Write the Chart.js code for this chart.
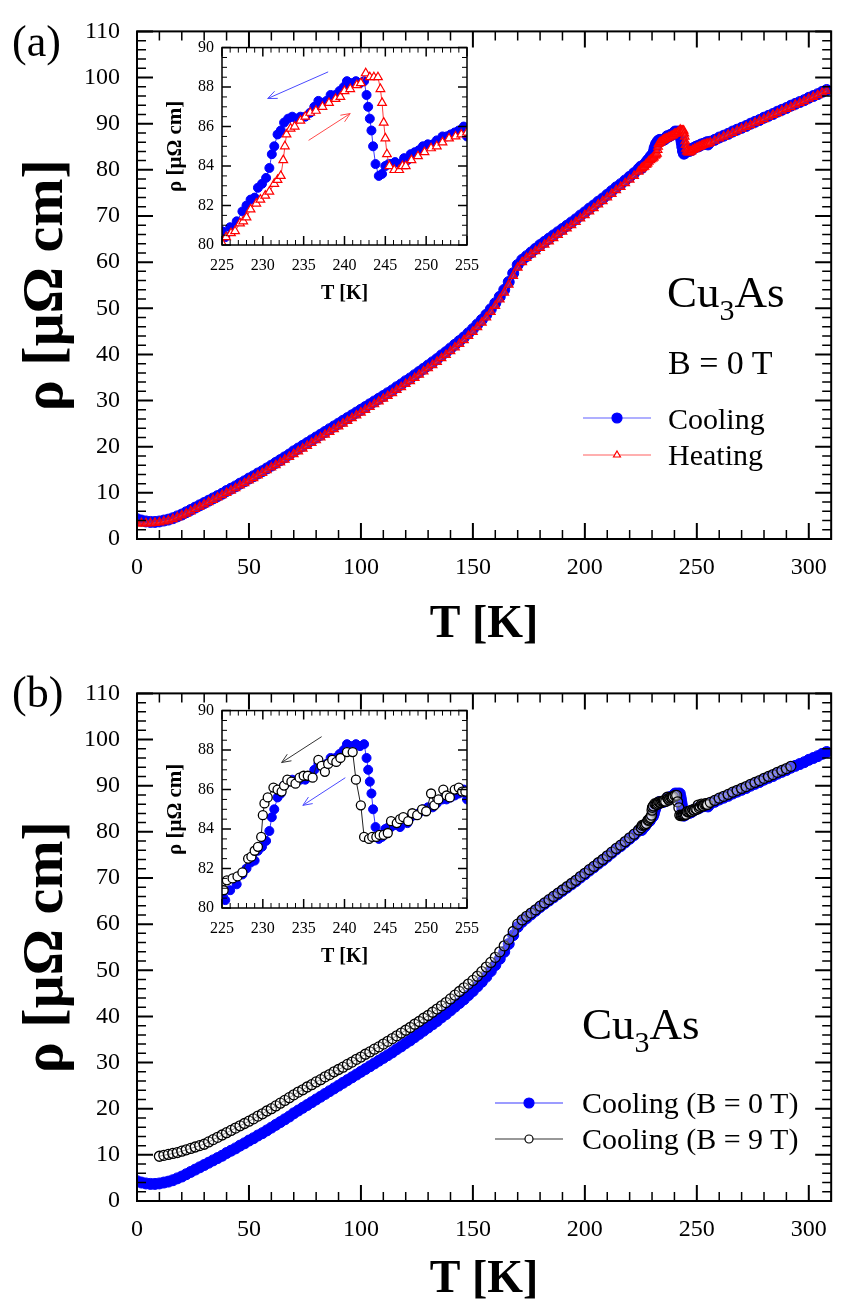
<!DOCTYPE html>
<html>
<head>
<meta charset="utf-8">
<script src="https://cdn.jsdelivr.net/npm/chart.js@4.4.0/dist/chart.umd.min.js"></script>
<style>
  body { margin: 0; background: #fff; width: 841px; height: 1303px; position: relative; overflow: hidden; font-family: "Liberation Serif", "Times New Roman", serif; }
  .box { position: absolute; }
  .lbl { position: absolute; color: #000; white-space: nowrap; line-height: 1; z-index: 5; }
  .sub { font-size: 30px; position: relative; top: 13px; }
</style>
</head>
<body>
<div class="box" style="left:0;top:0;width:841px;height:655px"><canvas id="mainA"></canvas></div>
<div class="box" style="left:150px;top:30px;width:340px;height:290px"><canvas id="insetA"></canvas></div>
<div class="box" style="left:0;top:662px;width:841px;height:641px"><canvas id="mainB"></canvas></div>
<div class="box" style="left:150px;top:693px;width:340px;height:290px"><canvas id="insetB"></canvas></div>

<div class="lbl" style="left:12px;top:20px;font-size:44px">(a)</div>
<div class="lbl" style="left:667px;top:270px;font-size:45px">Cu<span class="sub">3</span>As</div>
<div class="lbl" style="left:668px;top:346px;font-size:34px">B = 0 T</div>
<div class="lbl" style="left:668px;top:404px;font-size:30px">Cooling</div>
<div class="lbl" style="left:668px;top:440px;font-size:30px">Heating</div>

<div class="lbl" style="left:12px;top:671px;font-size:44px">(b)</div>
<div class="lbl" style="left:582px;top:1002px;font-size:45px">Cu<span class="sub">3</span>As</div>
<div class="lbl" style="left:582px;top:1088px;font-size:30px">Cooling (B = 0 T)</div>
<div class="lbl" style="left:582px;top:1124px;font-size:30px">Cooling (B = 9 T)</div>

<script>
// tick labels
const mainXTicks = [0, 50, 100, 150, 200, 250, 300];
const mainYTicks = [0, 10, 20, 30, 40, 50, 60, 70, 80, 90, 100, 110];
const insetXTicks = [225, 230, 235, 240, 245, 250, 255];
const insetYTicks = [80, 82, 84, 86, 88, 90];

// main panel temperatures (outside the inset window)
const mainT = [0, 2, 4, 6, 8, 10, 12, 14, 16, 18, 20, 22, 24, 26, 28, 30, 32, 34, 36, 38,
  40, 42, 44, 46, 48, 50, 52, 54, 56, 58, 60, 62, 64, 66, 68, 70, 72, 74, 76, 78,
  80, 82, 84, 86, 88, 90, 92, 94, 96, 98, 100, 102, 104, 106, 108, 110, 112, 114, 116, 118,
  120, 122, 124, 126, 128, 130, 132, 134, 136, 138, 140, 142, 144, 146, 148, 150, 152, 154, 156, 158,
  160, 162, 164, 166, 168, 170, 172, 174, 176, 178, 180, 182, 184, 186, 188, 190, 192, 194, 196, 198,
  200, 202, 204, 206, 208, 210, 212, 214, 216, 218, 220, 222, 224,
  256, 258, 260, 262, 264, 266, 268, 270, 272, 274, 276, 278, 280, 282, 284, 286, 288, 290, 292, 294,
  296, 298, 300, 302, 304, 306, 308];

const coolMain = [4.3, 4.0, 3.8, 3.7, 3.7, 3.8, 4.0, 4.2, 4.5, 4.9,
  5.3, 5.8, 6.3, 6.8, 7.3, 7.8, 8.3, 8.8, 9.3, 9.8,
  10.4, 10.9, 11.4, 12.0, 12.5, 13.1, 13.6, 14.2, 14.7, 15.3,
  15.9, 16.5, 17.1, 17.7, 18.3, 19.0, 19.6, 20.2, 20.8, 21.4,
  22.0, 22.6, 23.2, 23.8, 24.4, 25.0, 25.6, 26.2, 26.8, 27.4,
  28.0, 28.6, 29.2, 29.8, 30.4, 31.0, 31.6, 32.2, 32.9, 33.5,
  34.2, 34.8, 35.5, 36.2, 36.9, 37.6, 38.3, 39.0, 39.8, 40.5,
  41.3, 42.1, 42.9, 43.7, 44.6, 45.5, 46.5, 47.5, 48.6, 49.8,
  51.1, 52.5, 54.0, 55.7, 57.6, 59.4, 60.5, 61.3, 62.1, 62.9,
  63.7, 64.4, 65.1, 65.8, 66.5, 67.2, 67.9, 68.6, 69.3, 70.1,
  70.8, 71.6, 72.3, 73.1, 73.8, 74.6, 75.4, 76.2, 76.9, 77.7,
  78.5, 79.3, 80.2,
  86.1, 86.5, 87.0, 87.4, 87.8, 88.3, 88.7, 89.1, 89.5, 90.0, 90.4, 90.8, 91.3, 91.7, 92.1, 92.6,
  93.0, 93.4, 93.9, 94.3, 94.7, 95.1, 95.6, 96.0, 96.4, 96.9, 97.3];

const heatMain = [3.4, 3.4, 3.4, 3.4, 3.5, 3.6, 3.8, 4.0, 4.3, 4.7,
  5.1, 5.5, 6.0, 6.5, 7.0, 7.5, 8.0, 8.5, 9.0, 9.5,
  10.0, 10.5, 11.0, 11.6, 12.1, 12.7, 13.2, 13.8, 14.3, 14.9,
  15.5, 16.0, 16.6, 17.2, 17.8, 18.4, 19.0, 19.6, 20.2, 20.8,
  21.4, 22.0, 22.6, 23.2, 23.8, 24.4, 25.0, 25.6, 26.2, 26.8,
  27.4, 28.0, 28.6, 29.2, 29.8, 30.4, 31.0, 31.6, 32.3, 32.9,
  33.6, 34.2, 34.9, 35.6, 36.3, 37.0, 37.7, 38.4, 39.2, 39.9,
  40.7, 41.5, 42.3, 43.1, 44.0, 44.9, 45.9, 46.9, 48.0, 49.2,
  50.5, 51.9, 53.4, 55.1, 57.0, 58.8, 60.0, 60.9, 61.7, 62.4,
  63.1, 63.8, 64.5, 65.2, 65.9, 66.6, 67.3, 68.0, 68.7, 69.5,
  70.2, 71.0, 71.7, 72.5, 73.2, 74.0, 74.8, 75.6, 76.3, 77.1,
  77.9, 78.7, 79.6,
  85.9, 86.3, 86.8, 87.2, 87.6, 88.0, 88.5, 88.9, 89.3, 89.7, 90.2, 90.6, 91.0, 91.5, 91.9, 92.3,
  92.8, 93.2, 93.6, 94.1, 94.5, 94.9, 95.4, 95.8, 96.2, 96.7, 97.1];

// B = 9 T cooling run, main panel
const fieldT = [10, 12, 14, 16, 18, 20, 22, 24, 26, 28, 30, 32, 34, 36, 38, 40, 42, 44, 46, 48,
  50, 52, 54, 56, 58, 60, 62, 64, 66, 68, 70, 72, 74, 76, 78, 80, 82, 84, 86, 88,
  90, 92, 94, 96, 98, 100, 102, 104, 106, 108, 110, 112, 114, 116, 118, 120, 122, 124, 126, 128,
  130, 132, 134, 136, 138, 140, 142, 144, 146, 148, 150, 152, 154, 156, 158, 160, 162, 164, 166, 168,
  170, 172, 174, 176, 178, 180, 182, 184, 186, 188, 190, 192, 194, 196, 198, 200, 202, 204, 206, 208,
  210, 212, 214, 216, 218, 220, 222, 224,
  256, 258, 260, 262, 264, 266, 268, 270, 272, 274, 276, 278, 280, 282, 284, 286, 288, 290, 292];

const fieldMain = [9.7, 9.9, 10.1, 10.3, 10.5, 10.8, 11.1, 11.4, 11.7, 12.0,
  12.3, 12.8, 13.3, 13.8, 14.3, 14.8, 15.3, 15.8, 16.3, 16.8,
  17.3, 17.8, 18.4, 18.9, 19.5, 20.0, 20.6, 21.2, 21.8, 22.4,
  23.0, 23.6, 24.1, 24.7, 25.2, 25.8, 26.3, 26.9, 27.4, 28.0,
  28.5, 29.0, 29.6, 30.1, 30.7, 31.2, 31.8, 32.3, 32.9, 33.4,
  34.0, 34.6, 35.2, 35.8, 36.4, 37.0, 37.6, 38.3, 38.9, 39.6,
  40.2, 40.9, 41.6, 42.3, 43.0, 43.8, 44.6, 45.4, 46.2, 47.0,
  47.8, 48.7, 49.7, 50.7, 51.7, 52.8, 54.0, 55.3, 56.7, 58.4,
  60.0, 60.9, 61.7, 62.4, 63.1, 63.9, 64.6, 65.3, 66.0, 66.7,
  67.4, 68.1, 68.8, 69.5, 70.3, 71.0, 71.8, 72.5, 73.3, 74.0,
  74.8, 75.6, 76.4, 77.1, 77.9, 78.7, 79.5, 80.4,
  86.4, 86.8, 87.3, 87.7, 88.1, 88.6, 89.0, 89.4, 89.8, 90.3, 90.7, 91.1, 91.6, 92.0, 92.4, 92.9,
  93.3, 93.7, 94.2];

// transition window 225-255 K (inset)
const coolT = [225, 225.4, 226, 226.8, 227.5, 228, 228.5, 229, 229.4, 229.9,
  230.4, 230.8, 231.1, 231.4, 231.8, 232.2, 232.6, 233.1, 233.6, 234.1,
  234.6, 235.2, 235.8, 236.3, 236.8, 237.3, 237.8, 238.3, 238.9, 239.4,
  239.9, 240.3, 240.9, 241.4, 241.9, 242.4, 242.7, 242.9, 243.1, 243.3,
  243.5, 243.8, 244.2, 244.6, 245.0, 245.4, 245.7, 246.2, 246.8, 247.3,
  247.7, 248.1, 248.6, 249.1, 249.6, 250.2, 250.8, 251.3, 252.0, 252.5,
  253.0, 253.5, 254.0, 254.6, 255];
const coolRho = [80.7, 80.4, 80.9, 81.2, 81.7, 82.0, 82.3, 82.4, 82.9, 83.1,
  83.4, 83.9, 84.6, 85.0, 85.6, 85.8, 86.2, 86.4, 86.5, 86.4,
  86.5, 86.5, 86.7, 87.0, 87.3, 87.2, 87.3, 87.6, 87.6, 87.8,
  88.0, 88.3, 88.2, 88.3, 88.2, 88.3, 87.6, 87.0, 86.4, 85.8,
  85.0, 84.1, 83.5, 83.6, 84.0, 84.1, 84.1, 84.2, 84.1, 84.4,
  84.3, 84.6, 84.7, 84.8, 85.0, 85.1, 85.1, 85.3, 85.5, 85.5,
  85.6, 85.7, 85.8, 86.0, 85.5];

const heatT = [225, 225.5, 226.1, 226.6, 227.2, 227.6, 228, 228.5, 229.2, 229.7,
  230.3, 230.8, 231.4, 231.8, 232.2, 232.5, 232.7, 232.9, 233.4, 233.9,
  234.6, 235.2, 235.8, 236.5, 237.3, 238.1, 238.9, 239.5, 240, 240.7,
  241.5, 242.0, 242.6, 243.1, 243.6, 244.1, 244.4, 244.6, 244.8, 245.0,
  245.2, 245.5, 246.1, 246.7, 247.1, 247.5, 248.2, 249.0, 249.8, 250.6,
  251.3, 252.0, 252.8, 253.6, 254.3, 255];
const heatRho = [80.1, 80.4, 80.6, 80.7, 81.1, 81.2, 81.4, 81.8, 82.1, 82.3,
  82.5, 82.7, 83.1, 83.3, 83.5, 84.3, 85.0, 85.6, 85.9, 86.0,
  86.3, 86.5, 86.7, 86.8, 87.0, 87.2, 87.4, 87.5, 87.8, 87.9,
  88.1, 88.2, 88.7, 88.5, 88.5, 88.5, 87.9, 87.2, 86.2, 85.4,
  84.6, 84.0, 83.8, 83.8, 84.0, 84.0, 84.3, 84.5, 84.7, 84.9,
  85.0, 85.2, 85.4, 85.5, 85.6, 85.7];

const fieldInsetT = [225.2, 225.6, 226.3, 226.9, 227.5, 228.2, 228.6, 229.0, 229.4, 229.8,
  230.0, 230.2, 230.6, 231.3, 231.8, 232.3, 232.6, 233.0, 233.5, 234.0,
  234.5, 235.0, 235.5, 236.1, 236.8, 237.2, 237.6, 238.0, 238.5, 239.0,
  239.5, 240.3, 241.0, 241.4, 242.0, 242.4, 243.0, 243.4, 243.9, 244.3,
  244.8, 245.3, 245.7, 246.4, 246.8, 247.2, 247.8, 248.3, 248.9, 249.5,
  250.0, 250.6, 251.0, 251.5, 252.1, 252.5, 252.9, 253.5, 254.0, 254.4, 254.8];
const fieldInsetRho = [80.9, 81.4, 81.5, 81.6, 81.8, 82.5, 82.6, 82.9, 83.1, 83.6,
  84.7, 85.3, 85.6, 86.1, 86.0, 85.9, 86.2, 86.5, 86.4, 86.3,
  86.6, 86.7, 86.7, 86.6, 87.5, 87.2, 86.9, 87.3, 87.5, 87.4,
  87.6, 87.9, 87.9, 86.5, 85.2, 83.6, 83.5, 83.6, 83.6, 83.7,
  83.7, 83.8, 84.4, 84.3, 84.5, 84.6, 84.4, 84.8, 84.7, 85.0,
  84.9, 85.8, 85.2, 85.5, 86.0, 85.7, 85.6, 86.0, 86.1, 85.9, 85.9];

const FONT = "'Liberation Serif', 'Times New Roman', serif";

function pts(xs, ys) {
  return xs.map((x, i) => ({x: x, y: ys[i]}));
}
function merged(xs, ys, xs2, ys2) {
  return pts(xs, ys).concat(pts(xs2, ys2)).sort((a, b) => a.x - b.x);
}

// inward ticks on all four sides plus the frame
const frameTicks = {
  id: 'frameTicks',
  afterDatasetsDraw(chart, args, o) {
    const {ctx, chartArea: a} = chart;
    const x = chart.scales.x, y = chart.scales.y;
    ctx.save();
    ctx.strokeStyle = '#000';
    const nx = Math.round((x.max - x.min) / o.xMinor);
    for (let i = 0; i <= nx; i++) {
      const v = x.min + i * o.xMinor;
      const major = Math.abs(v / o.xMajor - Math.round(v / o.xMajor)) < 1e-6;
      const len = major ? o.major : o.minor;
      const px = x.getPixelForValue(v);
      ctx.lineWidth = major ? o.majorW : o.minorW;
      ctx.beginPath();
      ctx.moveTo(px, a.bottom); ctx.lineTo(px, a.bottom - len);
      ctx.moveTo(px, a.top); ctx.lineTo(px, a.top + len);
      ctx.stroke();
    }
    const ny = Math.round((y.max - y.min) / o.yMinor);
    for (let i = 0; i <= ny; i++) {
      const v = y.min + i * o.yMinor;
      const major = Math.abs(v / o.yMajor - Math.round(v / o.yMajor)) < 1e-6;
      const len = major ? o.major : o.minor;
      const py = y.getPixelForValue(v);
      ctx.lineWidth = major ? o.majorW : o.minorW;
      ctx.beginPath();
      ctx.moveTo(a.left, py); ctx.lineTo(a.left + len, py);
      ctx.moveTo(a.right, py); ctx.lineTo(a.right - len, py);
      ctx.stroke();
    }
    ctx.lineWidth = o.frameW;
    ctx.strokeRect(a.left, a.top, a.right - a.left, a.bottom - a.top);
    ctx.restore();
  }
};

// legend samples and arrows
const marks = {
  id: 'marks',
  afterDraw(chart, args, o) {
    const ctx = chart.ctx;
    ctx.save();
    (o.legend || []).forEach(it => {
      ctx.strokeStyle = it.line;
      ctx.lineWidth = 1.2;
      ctx.beginPath();
      ctx.moveTo(it.x1, it.y); ctx.lineTo(it.x2, it.y);
      ctx.stroke();
      ctx.fillStyle = it.fill;
      ctx.strokeStyle = it.stroke;
      ctx.lineWidth = 1.2;
      Chart.helpers.drawPoint(ctx, {pointStyle: it.style, radius: it.r, borderWidth: 1.2, rotation: 0}, (it.x1 + it.x2) / 2, it.y);
    });
    const x = chart.scales.x, y = chart.scales.y;
    (o.arrows || []).forEach(ar => {
      const x0 = x.getPixelForValue(ar.from[0]), y0 = y.getPixelForValue(ar.from[1]);
      const x1 = x.getPixelForValue(ar.to[0]), y1 = y.getPixelForValue(ar.to[1]);
      const ang = Math.atan2(y1 - y0, x1 - x0);
      ctx.strokeStyle = ar.color;
      ctx.lineWidth = 1;
      ctx.beginPath();
      ctx.moveTo(x0, y0); ctx.lineTo(x1, y1);
      ctx.moveTo(x1 - 10 * Math.cos(ang - 0.4), y1 - 10 * Math.sin(ang - 0.4));
      ctx.lineTo(x1, y1);
      ctx.lineTo(x1 - 10 * Math.cos(ang + 0.4), y1 - 10 * Math.sin(ang + 0.4));
      ctx.stroke();
    });
    ctx.restore();
  }
};

function axes(o) {
  return {
    x: {
      type: 'linear', min: o.xMin, max: o.xMax,
      afterBuildTicks: s => { s.ticks = o.xTicks.map(v => ({value: v})); },
      afterFit: s => { s.height = o.xHeight; },
      grid: {display: false, drawTicks: false}, border: {display: false},
      ticks: {color: '#000', padding: o.xPad, autoSkip: false, maxRotation: 0, font: {family: FONT, size: o.tickSize}},
      title: {display: true, text: 'T [K]', color: '#000', font: {family: FONT, size: o.xTitleSize, weight: 'bold', lineHeight: 1}, padding: {top: 0, bottom: o.xTitlePad}}
    },
    y: {
      type: 'linear', min: o.yMin, max: o.yMax,
      afterBuildTicks: s => { s.ticks = o.yTicks.map(v => ({value: v})); },
      afterFit: s => { s.width = o.yWidth; },
      grid: {display: false, drawTicks: false}, border: {display: false},
      ticks: {color: '#000', padding: o.yPad, autoSkip: false, font: {family: FONT, size: o.tickSize}},
      title: {display: true, text: 'ρ [μΩ cm]', color: '#000', font: {family: FONT, size: o.yTitleSize, weight: 'bold', lineHeight: 1}, padding: {top: o.yTitlePad, bottom: 0}}
    }
  };
}

const mainTicks = {xMinor: 10, xMajor: 50, yMinor: 2, yMajor: 10, major: 16, minor: 9, majorW: 2, minorW: 1.5, frameW: 2};
const insetTicks = {xMinor: 1, xMajor: 5, yMinor: 0.5, yMajor: 2, major: 9, minor: 5, majorW: 1.5, minorW: 1, frameW: 1.5};

function mainAxes(xHeight, titlePad) {
  return axes({xMin: 0, xMax: 310, yMin: 0, yMax: 110, xTicks: mainXTicks, yTicks: mainYTicks,
    xHeight: xHeight, yWidth: 137, xPad: 14, yPad: 17, tickSize: 24,
    xTitleSize: 46, xTitlePad: titlePad, yTitleSize: 58, yTitlePad: 18});
}
function insetAxes() {
  return axes({xMin: 225, xMax: 255, yMin: 80, yMax: 90, xTicks: insetXTicks, yTicks: insetYTicks,
    xHeight: 75, yWidth: 72, xPad: 11, yPad: 8, tickSize: 16,
    xTitleSize: 20, xTitlePad: 16, yTitleSize: 21, yTitlePad: 15});
}

const blue = {borderColor: '#3a3aff', pointBackgroundColor: '#0000ff', pointBorderColor: '#0000ff', pointStyle: 'circle', borderWidth: 1, pointBorderWidth: 1, showLine: true};
const red = {borderColor: '#ff3a3a', pointBackgroundColor: 'rgba(255,40,40,0.55)', pointBorderColor: '#ff0000', pointStyle: 'triangle', borderWidth: 1, pointBorderWidth: 1.2, showLine: true};
const black = {borderColor: '#222', pointBackgroundColor: 'rgba(255,255,255,0.3)', pointBorderColor: '#000', pointStyle: 'circle', borderWidth: 1, pointBorderWidth: 1.3, showLine: true};

function chart(id, datasets, scales, tickOpts, markOpts, top, right) {
  return new Chart(document.getElementById(id), {
    type: 'scatter',
    data: {datasets: datasets},
    options: {
      responsive: true, maintainAspectRatio: false, animation: false, events: [],
      layout: {padding: {top: top, right: right, left: 0, bottom: 0}},
      plugins: {legend: {display: false}, tooltip: {enabled: false}, frameTicks: tickOpts, marks: markOpts},
      scales: scales
    },
    plugins: [frameTicks, marks]
  });
}

// panel (a)
chart('mainA', [
  Object.assign({label: 'Heating', order: 0, pointRadius: 5, data: merged(mainT, heatMain, heatT, heatRho)}, red),
  Object.assign({label: 'Cooling', order: 1, pointRadius: 5.5, data: merged(mainT, coolMain, coolT, coolRho)}, blue)
], mainAxes(116, 7), mainTicks, {
  legend: [
    {x1: 583, x2: 651, y: 418, line: '#6060ff', fill: '#0000ff', stroke: '#0000ff', style: 'circle', r: 5},
    {x1: 583, x2: 651, y: 455, line: '#ff6060', fill: '#fff', stroke: '#ff0000', style: 'triangle', r: 4}
  ]
}, 15, 4);

chart('insetA', [
  Object.assign({label: 'Heating', order: 0, pointRadius: 5, data: pts(heatT, heatRho)}, red, {pointBackgroundColor: '#fff'}),
  Object.assign({label: 'Cooling', order: 1, pointRadius: 4.5, data: pts(coolT, coolRho)}, blue)
], insetAxes(), insetTicks, {
  arrows: [
    {from: [238, 88.77], to: [230.6, 87.42], color: '#4a4aff'},
    {from: [235.6, 85.3], to: [240.7, 86.66], color: '#ff4a4a'}
  ]
}, 17, 10);

// panel (b)
chart('mainB', [
  Object.assign({label: 'Cooling (B = 9 T)', order: 0, pointRadius: 5, data: merged(fieldT, fieldMain, fieldInsetT, fieldInsetRho)}, black),
  Object.assign({label: 'Cooling (B = 0 T)', order: 1, pointRadius: 5.5, data: merged(mainT, coolMain, coolT, coolRho)}, blue)
], mainAxes(102, 0), mainTicks, {
  legend: [
    {x1: 495, x2: 563, y: 441, line: '#3a3aff', fill: '#0000ff', stroke: '#0000ff', style: 'circle', r: 5},
    {x1: 495, x2: 563, y: 477, line: '#333', fill: '#fff', stroke: '#000', style: 'circle', r: 4}
  ]
}, 16, 4);

chart('insetB', [
  Object.assign({label: 'Cooling (B = 9 T)', order: 0, pointRadius: 4.5, data: pts(fieldInsetT, fieldInsetRho)}, black, {pointBackgroundColor: '#fff'}),
  Object.assign({label: 'Cooling (B = 0 T)', order: 1, pointRadius: 4.5, data: pts(coolT, coolRho)}, blue)
], insetAxes(), insetTicks, {
  arrows: [
    {from: [237.2, 88.68], to: [232.3, 87.37], color: '#333'},
    {from: [240.1, 86.6], to: [234.9, 85.2], color: '#4a4aff'}
  ]
}, 17, 9);
</script>
</body>
</html>
